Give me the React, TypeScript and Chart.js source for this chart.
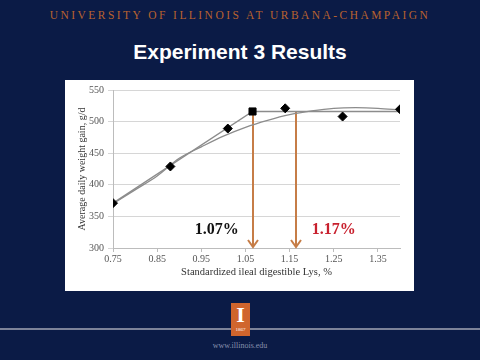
import React, { useEffect, useRef } from "react";
import { Chart, registerables } from "chart.js";

Chart.register(...registerables);

// ---- data ----
const xTicks = [0.75, 0.85, 0.95, 1.05, 1.15, 1.25, 1.35];
const obsX = [0.75, 0.88, 1.01, 1.14, 1.27, 1.4];
const obsY = [371, 429, 489, 521, 508, 519.5];
const breakX = [1.066];
const breakY = [516];
const brokenX = [0.75, 1.066, 1.4];
const brokenY = [371, 516, 516];
const quadX = [0.75, 0.8, 0.85, 0.9, 0.95, 1.0, 1.05, 1.1, 1.15, 1.2, 1.25, 1.3, 1.35, 1.4];
const quadY = [370, 392, 414, 442, 460, 477, 491, 502, 511, 517, 521, 522, 521, 518.5];
const arrowX = [1.066, 1.164];
const arrowTop = 516;
const labelTexts = ["1.07%", "1.17%"];
const labelX = [0.985, 1.25];
const labelY = [328.5, 328.5];
const labelColors = ["#111111", "#c8202e"];

const toPts = (xs: number[], ys: number[]) => xs.map((x, i) => ({ x, y: ys[i] }));

const annotPlugin = {
  id: "annot",
  beforeDatasetsDraw(chart: any) {
    const { ctx, scales } = chart;
    const xs = scales.x;
    const ys = scales.y;
    ctx.save();
    ctx.strokeStyle = "#c67d47";
    ctx.fillStyle = "#c67d47";
    ctx.lineWidth = 2;
    arrowX.forEach((v) => {
      const px = Math.round(xs.getPixelForValue(v));
      const top = ys.getPixelForValue(arrowTop);
      const bot = ys.getPixelForValue(ys.min) - 1;
      ctx.beginPath();
      ctx.moveTo(px, top);
      ctx.lineTo(px, bot);
      ctx.stroke();
      ctx.beginPath();
      ctx.moveTo(px - 5, bot - 7);
      ctx.lineTo(px, bot);
      ctx.lineTo(px + 5, bot - 7);
      ctx.stroke();
    });
    ctx.restore();
  },
  afterDatasetsDraw(chart: any) {
    const { ctx, scales } = chart;
    ctx.save();
    ctx.font = "bold 16px 'Liberation Serif', serif";
    ctx.textAlign = "center";
    ctx.textBaseline = "middle";
    labelTexts.forEach((t, i) => {
      ctx.fillStyle = labelColors[i];
      ctx.fillText(t, scales.x.getPixelForValue(labelX[i]), scales.y.getPixelForValue(labelY[i]));
    });
    ctx.restore();
  },
};

function ChartPanel() {
  const ref = useRef<HTMLCanvasElement>(null);
  useEffect(() => {
    if (!ref.current) return;
    const serif = "'Liberation Serif', 'Times New Roman', serif";
    const chart = new Chart(ref.current, {
      type: "scatter",
      data: {
        datasets: [
          {
            data: toPts(obsX, obsY),
            pointStyle: "rectRot",
            pointRadius: 4.5,
            backgroundColor: "#000",
            borderColor: "#000",
            showLine: false,
            order: 0,
          } as any,
          {
            data: toPts(breakX, breakY),
            pointStyle: "rect",
            pointRadius: 5,
            backgroundColor: "#000",
            borderColor: "#000",
            showLine: false,
            order: 0,
          },
          {
            data: toPts(brokenX, brokenY),
            showLine: true,
            borderColor: "#8c8c8c",
            borderWidth: 1.3,
            pointRadius: 0,
            order: 2,
          },
          {
            data: toPts(quadX, quadY),
            showLine: true,
            borderColor: "#8c8c8c",
            borderWidth: 1.3,
            pointRadius: 0,
            cubicInterpolationMode: "monotone",
            order: 2,
          },
        ],
      },
      options: {
        animation: false,
        responsive: false,
        devicePixelRatio: 1,
        layout: { padding: { top: 10, right: 14, left: 11, bottom: 12 } },
        plugins: { legend: { display: false }, tooltip: { enabled: false } },
        scales: {
          x: {
            type: "linear",
            min: 0.75,
            max: 1.4,
            afterBuildTicks: (s: any) => {
              s.ticks = xTicks.map((v) => ({ value: v }));
            },
            afterFit: (s: any) => {
              s.height = 31;
            },
            ticks: {
              autoSkip: false,
              maxRotation: 0,
              callback: (v: any) => Number(v).toFixed(2),
              font: { family: serif, size: 10 },
              color: "#555",
              padding: 1,
            },
            grid: { drawOnChartArea: false, tickLength: 4, color: "#bcbcbc" },
            border: { color: "#bcbcbc" },
            title: {
              display: true,
              text: "Standardized ileal digestible Lys, %",
              font: { family: serif, size: 10.5 },
              color: "#333",
              padding: { top: 2, bottom: 0 },
            },
          },
          y: {
            min: 300,
            max: 550,
            afterFit: (s: any) => {
              s.width = 37;
            },
            ticks: {
              stepSize: 50,
              font: { family: serif, size: 10 },
              color: "#555",
              padding: 4,
            },
            grid: { color: "#d6d6d6", tickLength: 5 },
            border: { color: "#bcbcbc" },
            title: {
              display: true,
              text: "Average daily weight gain, g/d",
              font: { family: serif, size: 10 },
              color: "#333",
              padding: { top: 0, bottom: 0 },
            },
          },
        },
      },
      plugins: [annotPlugin],
    } as any);
    return () => chart.destroy();
  }, []);
  return <canvas ref={ref} width={349} height={211} style={{ display: "block" }} />;
}

export default function App() {
  return (
    <div
      style={{
        position: "fixed",
        left: 0,
        top: 0,
        width: 480,
        height: 360,
        background: "#0b1b46",
        overflow: "hidden",
      }}
    >
      <div
        style={{
          position: "absolute",
          left: 0,
          width: 480,
          top: 9,
          textAlign: "center",
          fontFamily: "'Liberation Serif', serif",
          fontSize: 11.5,
          letterSpacing: 2.45,
          color: "#b9622f",
          whiteSpace: "nowrap",
        }}
      >
        UNIVERSITY OF ILLINOIS AT URBANA-CHAMPAIGN
      </div>
      <div
        style={{
          position: "absolute",
          left: 0,
          width: 480,
          top: 40,
          textAlign: "center",
          fontFamily: "'Liberation Sans', Arial, sans-serif",
          fontWeight: "bold",
          fontSize: 21,
          color: "#ffffff",
          whiteSpace: "nowrap",
        }}
      >
        Experiment 3 Results
      </div>
      <div
        style={{
          position: "absolute",
          left: 65,
          top: 80,
          width: 349,
          height: 211,
          background: "#ffffff",
        }}
      >
        <ChartPanel />
      </div>
      <div
        style={{
          position: "absolute",
          left: 0,
          top: 328,
          width: 480,
          height: 2,
          background: "#7d8399",
        }}
      />
      <div
        style={{
          position: "absolute",
          left: 231,
          top: 303,
          width: 19,
          height: 33,
          background: "#d0652d",
          color: "#fff",
          textAlign: "center",
          fontFamily: "'Liberation Serif', serif",
          overflow: "hidden",
        }}
      >
        <div style={{ fontSize: 22, fontWeight: "bold", lineHeight: "24px" }}>I</div>
        <div style={{ fontSize: 5, lineHeight: "6px" }}>1867</div>
      </div>
      <div
        style={{
          position: "absolute",
          left: 0,
          width: 480,
          top: 341,
          textAlign: "center",
          fontFamily: "'Liberation Serif', serif",
          fontSize: 8,
          color: "#8790ad",
          whiteSpace: "nowrap",
        }}
      >
        www.illinois.edu
      </div>
    </div>
  );
}
